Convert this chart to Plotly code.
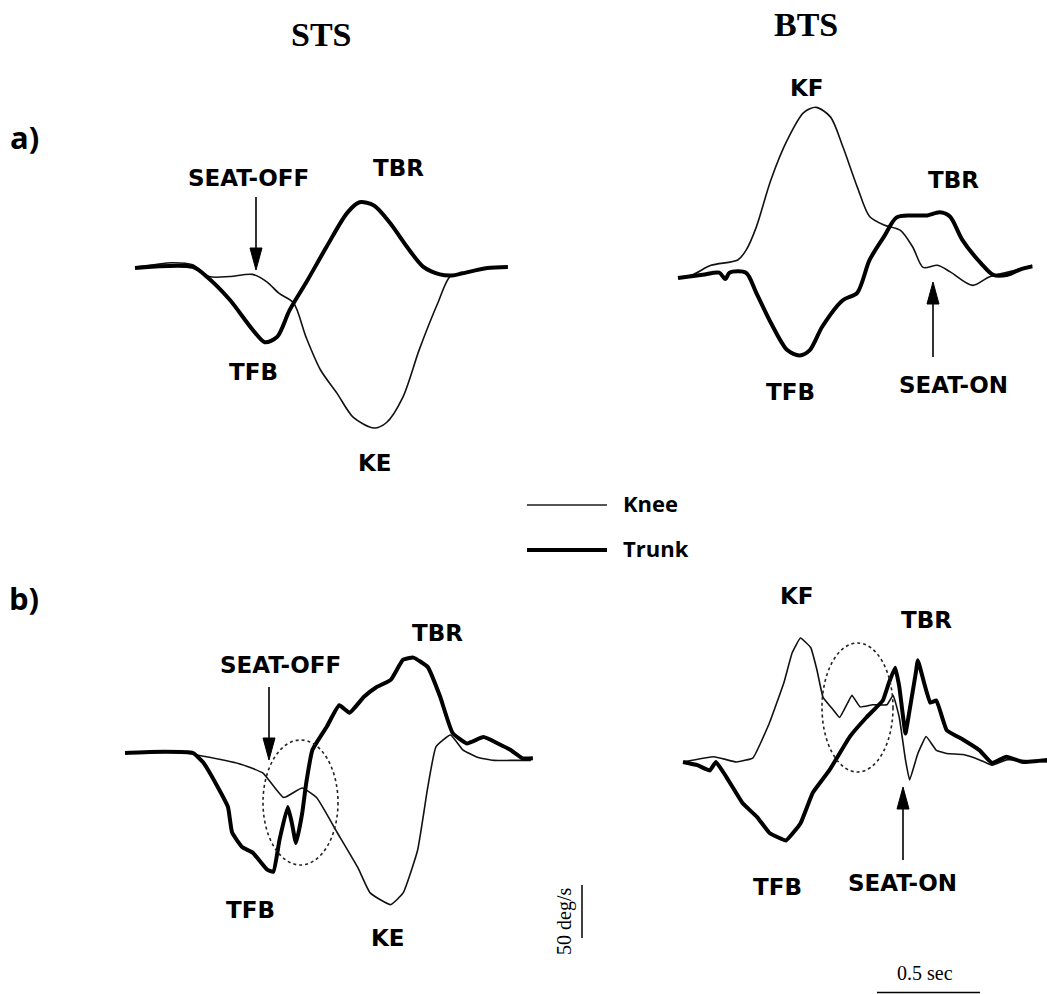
import plotly.graph_objects as go

W, H = 1047, 994

# ---------------- data (time in s, angular velocity in deg/s) ----------------
# a) STS
sts_a_knee_t = [0, 0.09, 0.18, 0.28, 0.36, 0.46, 0.57, 0.64, 0.70, 0.77, 0.83, 0.90, 0.98, 1.06, 1.16, 1.22, 1.30, 1.38, 1.47, 1.53, 1.59, 1.71, 1.81]
sts_a_knee = [1, 3, 5, 3, -8, -8, -6, -13, -24, -33, -65, -96, -118, -141, -151, -146, -122, -77, -33, -8, -5, 0, 1]
sts_a_trunk_t = [0, 0.28, 0.35, 0.46, 0.57, 0.63, 0.69, 0.75, 0.83, 0.93, 1.03, 1.09, 1.16, 1.24, 1.32, 1.40, 1.48, 1.54, 1.59, 1.71, 1.81]
sts_a_trunk = [0, 1, -8.5, -30, -58, -70, -65, -40, -14, 20, 52, 62, 59, 42, 20, 1, -6, -7, -5, 0, 1]

# a) BTS
bts_a_knee_t = [0, 0.07, 0.16, 0.29, 0.33, 0.38, 0.45, 0.53, 0.61, 0.67, 0.74, 0.80, 0.87, 0.93, 1.00, 1.08, 1.14, 1.19, 1.26, 1.32, 1.43, 1.51, 1.61, 1.72]
bts_a_knee = [0, 3, 12, 17, 26, 48, 92, 130, 156, 161, 152, 124, 86, 58, 50, 45, 29, 10, 12, 6, -7, 1, 6, 12]
bts_a_trunk_t = [0, 0.12, 0.20, 0.23, 0.25, 0.33, 0.38, 0.45, 0.53, 0.59, 0.64, 0.70, 0.80, 0.87, 0.93, 1.00, 1.06, 1.13, 1.21, 1.27, 1.32, 1.38, 1.47, 1.53, 1.60, 1.66, 1.72]
bts_a_trunk = [0, 3, 5, -1, 5, 5, -14, -42, -68, -73, -68, -46, -21, -14, 17, 39, 57, 59, 59, 62, 58, 36, 14, 3, 3, 8, 11]

# b) STS
sts_b_knee_t = [0, 0.25, 0.41, 0.57, 0.67, 0.77, 0.86, 0.93, 1.03, 1.13, 1.19, 1.29, 1.35, 1.42, 1.47, 1.51, 1.58, 1.64, 1.71, 1.79, 1.87, 1.97]
sts_b_knee = [0, 1, -4, -11, -19, -42, -33, -42, -75, -108, -132, -143, -132, -92, -32, 6, 17, 3, -4, -7, -7, -7]
sts_b_trunk_t = [0, 0.12, 0.33, 0.38, 0.45, 0.50, 0.52, 0.57, 0.62, 0.69, 0.72, 0.75, 0.79, 0.81, 0.83, 0.86, 0.88, 0.91, 0.98, 1.04, 1.09, 1.16, 1.22, 1.29, 1.35, 1.40, 1.47, 1.53, 1.59, 1.66, 1.74, 1.81, 1.87, 1.93, 1.98]
sts_b_trunk = [0, 1, 0, -9, -32, -51, -75, -89, -94, -110, -112, -82, -51, -66, -85, -57, -28, 3, 25, 45, 38, 53, 62, 69, 88, 90, 81, 53, 19, 9, 15, 9, 3, -5, -5]

# b) BTS
bts_b_knee_t = [0, 0.15, 0.26, 0.34, 0.42, 0.49, 0.53, 0.57, 0.62, 0.65, 0.68, 0.73, 0.76, 0.80, 0.82, 0.86, 0.92, 0.99, 1.02, 1.05, 1.08, 1.10, 1.14, 1.18, 1.23, 1.28, 1.36, 1.44, 1.50, 1.57, 1.77]
bts_b_knee = [0, 5, 0, 4, 37, 75, 103, 117, 108, 87, 61, 49, 42, 56, 63, 52, 54, 54, 63, 42, 2, -17, 8, 24, 11, 8, 7, 2, -3, 2, 0]
bts_b_trunk_t = [0, 0.07, 0.13, 0.16, 0.21, 0.29, 0.36, 0.42, 0.50, 0.57, 0.63, 0.71, 0.81, 0.89, 0.97, 1.00, 1.03, 1.05, 1.08, 1.10, 1.13, 1.14, 1.17, 1.20, 1.23, 1.28, 1.36, 1.44, 1.50, 1.57, 1.65, 1.77]
bts_b_trunk = [0, -3, -8, 0, -14, -39, -52, -67, -74, -58, -29, -8, 24, 42, 58, 75, 89, 71, 27, 49, 84, 96, 75, 56, 58, 30, 21, 11, -1, 5, 0, 2]

SCALE_DEG = 50     # deg/s scale bar
SCALE_SEC = 0.5    # time scale bar

# ---------------- layout geometry ----------------
PX_PER_S = 206.0
PX_PER_DEG = 1.06

# panel: origin pixel (t=0, v=0) and rectangle L,T,R,B in page pixels
panels = [
    dict(x0=135, y0=268, rect=(100, 60, 560, 490)),
    dict(x0=678, y0=278, rect=(640, 60, 1047, 490)),
    dict(x0=125, y0=753, rect=(100, 590, 620, 994)),
    dict(x0=683, y0=762, rect=(660, 590, 1047, 994)),
]

series = [
    (sts_a_knee_t, sts_a_knee, sts_a_trunk_t, sts_a_trunk, 0.8),
    (bts_a_knee_t, bts_a_knee, bts_a_trunk_t, bts_a_trunk, 0.8),
    (sts_b_knee_t, sts_b_knee, sts_b_trunk_t, sts_b_trunk, 0.4),
    (bts_b_knee_t, bts_b_knee, bts_b_trunk_t, bts_b_trunk, 0.3),
]

fig = go.Figure()
layout_axes = {}
for i, (p, s) in enumerate(zip(panels, series)):
    n = "" if i == 0 else str(i + 1)
    L, T, R, B = p["rect"]
    layout_axes["xaxis" + n] = dict(
        domain=[L / W, R / W],
        range=[(L - p["x0"]) / PX_PER_S, (R - p["x0"]) / PX_PER_S],
        visible=False, anchor="y" + n, fixedrange=True)
    layout_axes["yaxis" + n] = dict(
        domain=[1 - B / H, 1 - T / H],
        range=[(p["y0"] - B) / PX_PER_DEG, (p["y0"] - T) / PX_PER_DEG],
        visible=False, anchor="x" + n, fixedrange=True)
    kt, kv, tt, tv, sm = s
    fig.add_trace(go.Scatter(x=kt, y=kv, mode="lines", xaxis="x" + n, yaxis="y" + n,
                             line=dict(color="#111", width=1.6, shape="spline", smoothing=sm),
                             name="Knee", showlegend=False, hoverinfo="skip"))
    fig.add_trace(go.Scatter(x=tt, y=tv, mode="lines", xaxis="x" + n, yaxis="y" + n,
                             line=dict(color="#000", width=4, shape="spline", smoothing=sm),
                             name="Trunk", showlegend=False, hoverinfo="skip"))

# scale bars (drawn in panel b axes)
pb, pr = panels[2], panels[3]
t_bar = (582 - pb["x0"]) / PX_PER_S
v_top = (pb["y0"] - 885) / PX_PER_DEG
fig.add_trace(go.Scatter(x=[t_bar, t_bar], y=[v_top, v_top - SCALE_DEG], mode="lines",
                         xaxis="x3", yaxis="y3", line=dict(color="#000", width=1.5),
                         showlegend=False, hoverinfo="skip"))
t_start = (877 - pr["x0"]) / PX_PER_S
v_bar = (pr["y0"] - 992.5) / PX_PER_DEG
fig.add_trace(go.Scatter(x=[t_start, t_start + SCALE_SEC], y=[v_bar, v_bar], mode="lines",
                         xaxis="x4", yaxis="y4", line=dict(color="#000", width=1.5),
                         showlegend=False, hoverinfo="skip"))


def px(x):
    return x / W


def py(y):
    return 1 - y / H


annotations = []
LAB = dict(family="DejaVu Sans", size=23, color="#000", weight="bold")


def label(text, x, y, font=LAB, **kw):
    annotations.append(dict(text=text, x=px(x), y=py(y), xref="paper", yref="paper",
                            showarrow=False, font=font, xanchor=kw.get("xanchor", "center"),
                            yanchor="middle", textangle=kw.get("textangle", 0)))


for t, x, y in [("SEAT-OFF", 248, 178), ("TBR", 398, 168), ("TFB", 253, 372), ("KE", 375, 463),
                ("KF", 807, 88), ("TBR", 953, 180), ("TFB", 790, 392), ("SEAT-ON", 953, 385),
                ("SEAT-OFF", 280, 665), ("TBR", 437, 633), ("TFB", 250, 910), ("KE", 388, 938),
                ("KF", 797, 596), ("TBR", 926, 620), ("TFB", 777, 887), ("SEAT-ON", 902, 883)]:
    label(t, x, y)

TITLE = dict(family="Liberation Serif", size=34, color="#000", weight="bold")
label("STS", 321, 35, TITLE)
label("BTS", 806, 24, TITLE)
PANEL = dict(family="Open Sans", size=31, color="#000", weight="bold")
label("a)", 24, 137, PANEL)
label("b)", 24, 598, PANEL)
LEG = dict(family="Open Sans", size=22, color="#000", weight="bold")
label("Knee", 621, 503, LEG, xanchor="left")
label("Trunk", 621, 548, LEG, xanchor="left")
SER = dict(family="Liberation Serif", size=20, color="#000")
label("50 deg/s", 564, 922, SER, textangle=-90)
label("0.5 sec", 925, 973, SER)

shapes = []
# legend lines
shapes.append(dict(type="line", xref="paper", yref="paper", x0=px(527), x1=px(607), y0=py(505), y1=py(505),
                   line=dict(color="#555", width=1.8)))
shapes.append(dict(type="line", xref="paper", yref="paper", x0=px(527), x1=px(607), y0=py(550), y1=py(550),
                   line=dict(color="#000", width=4)))


def arrow(x, ytail, yhead):
    d = 1 if yhead > ytail else -1
    hl, hw = 22, 6
    shapes.append(dict(type="line", xref="paper", yref="paper", x0=px(x), x1=px(x),
                       y0=py(ytail), y1=py(yhead - d * hl), line=dict(color="#000", width=1.6)))
    path = "M {} {} L {} {} L {} {} Z".format(px(x - hw), py(yhead - d * hl), px(x + hw), py(yhead - d * hl),
                                             px(x), py(yhead))
    shapes.append(dict(type="path", xref="paper", yref="paper", path=path, fillcolor="#000",
                       line=dict(color="#000", width=1)))


arrow(256, 197, 270)
arrow(933, 357, 282)
arrow(269, 687, 760)
arrow(903, 860, 787)

for (x0, y0, x1, y1) in [(263, 740, 338, 865), (822, 643, 893, 772)]:
    shapes.append(dict(type="circle", xref="paper", yref="paper", x0=px(x0), x1=px(x1), y0=py(y0), y1=py(y1),
                       line=dict(color="#222", width=1.6, dash="dot")))

fig.update_layout(width=W, height=H, margin=dict(l=0, r=0, t=0, b=0),
                  paper_bgcolor="white", plot_bgcolor="white",
                  annotations=annotations, shapes=shapes, showlegend=False, **layout_axes)

fig.write_html("out.html", config={"displayModeBar": False},
               post_script="document.body.style.margin='0';document.body.style.overflow='hidden';")
